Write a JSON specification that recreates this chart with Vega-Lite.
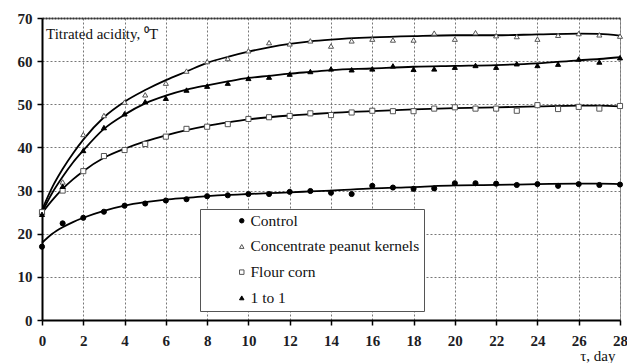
{
  "$schema": "https://vega.github.io/schema/vega-lite/v6.json",
  "width": 578,
  "height": 302,
  "autosize": "none",
  "padding": {"left": 42, "top": 18, "right": 7, "bottom": 43},
  "background": "white",
  "config": {
    "view": {"stroke": "#999", "strokeWidth": 1},
    "font": "Liberation Serif",
    "legend": {
      "strokeColor": "#555", "fillColor": "white", "padding": 4,
      "labelFont": "Liberation Serif", "labelFontSize": 15.5, "labelColor": "#111", "labelLimit": 400,
      "symbolSize": 20, "symbolOffset": 30, "labelOffset": 1, "rowPadding": 8.7, "symbolStrokeWidth": 1
    }
  },
  "datasets": {
    "pts": [
      {"day": 0, "value": 17.0, "series": "Control"},
      {"day": 1, "value": 22.4, "series": "Control"},
      {"day": 2, "value": 23.7, "series": "Control"},
      {"day": 3, "value": 25.1, "series": "Control"},
      {"day": 4, "value": 26.5, "series": "Control"},
      {"day": 5, "value": 27.0, "series": "Control"},
      {"day": 6, "value": 27.7, "series": "Control"},
      {"day": 7, "value": 28.0, "series": "Control"},
      {"day": 8, "value": 28.7, "series": "Control"},
      {"day": 9, "value": 28.9, "series": "Control"},
      {"day": 10, "value": 29.2, "series": "Control"},
      {"day": 11, "value": 29.2, "series": "Control"},
      {"day": 12, "value": 29.7, "series": "Control"},
      {"day": 13, "value": 29.9, "series": "Control"},
      {"day": 14, "value": 29.5, "series": "Control"},
      {"day": 15, "value": 29.2, "series": "Control"},
      {"day": 16, "value": 31.1, "series": "Control"},
      {"day": 17, "value": 30.7, "series": "Control"},
      {"day": 18, "value": 30.4, "series": "Control"},
      {"day": 19, "value": 30.5, "series": "Control"},
      {"day": 20, "value": 31.7, "series": "Control"},
      {"day": 21, "value": 31.7, "series": "Control"},
      {"day": 22, "value": 31.6, "series": "Control"},
      {"day": 23, "value": 31.3, "series": "Control"},
      {"day": 24, "value": 31.5, "series": "Control"},
      {"day": 25, "value": 31.1, "series": "Control"},
      {"day": 26, "value": 31.5, "series": "Control"},
      {"day": 27, "value": 31.3, "series": "Control"},
      {"day": 28, "value": 31.4, "series": "Control"},
      {"day": 0, "value": 25.0, "series": "Concentrate peanut kernels"},
      {"day": 1, "value": 32.0, "series": "Concentrate peanut kernels"},
      {"day": 2, "value": 43.0, "series": "Concentrate peanut kernels"},
      {"day": 3, "value": 47.4, "series": "Concentrate peanut kernels"},
      {"day": 4, "value": 50.5, "series": "Concentrate peanut kernels"},
      {"day": 5, "value": 52.2, "series": "Concentrate peanut kernels"},
      {"day": 6, "value": 54.9, "series": "Concentrate peanut kernels"},
      {"day": 7, "value": 57.7, "series": "Concentrate peanut kernels"},
      {"day": 8, "value": 59.9, "series": "Concentrate peanut kernels"},
      {"day": 9, "value": 60.6, "series": "Concentrate peanut kernels"},
      {"day": 10, "value": 62.4, "series": "Concentrate peanut kernels"},
      {"day": 11, "value": 64.3, "series": "Concentrate peanut kernels"},
      {"day": 12, "value": 64.0, "series": "Concentrate peanut kernels"},
      {"day": 13, "value": 64.7, "series": "Concentrate peanut kernels"},
      {"day": 14, "value": 63.5, "series": "Concentrate peanut kernels"},
      {"day": 15, "value": 64.7, "series": "Concentrate peanut kernels"},
      {"day": 16, "value": 65.1, "series": "Concentrate peanut kernels"},
      {"day": 17, "value": 64.9, "series": "Concentrate peanut kernels"},
      {"day": 18, "value": 64.9, "series": "Concentrate peanut kernels"},
      {"day": 19, "value": 66.5, "series": "Concentrate peanut kernels"},
      {"day": 20, "value": 65.1, "series": "Concentrate peanut kernels"},
      {"day": 21, "value": 66.6, "series": "Concentrate peanut kernels"},
      {"day": 22, "value": 65.9, "series": "Concentrate peanut kernels"},
      {"day": 23, "value": 65.7, "series": "Concentrate peanut kernels"},
      {"day": 24, "value": 65.1, "series": "Concentrate peanut kernels"},
      {"day": 25, "value": 66.0, "series": "Concentrate peanut kernels"},
      {"day": 26, "value": 66.4, "series": "Concentrate peanut kernels"},
      {"day": 27, "value": 66.1, "series": "Concentrate peanut kernels"},
      {"day": 28, "value": 65.8, "series": "Concentrate peanut kernels"},
      {"day": 0, "value": 25.0, "series": "Flour corn"},
      {"day": 1, "value": 30.0, "series": "Flour corn"},
      {"day": 2, "value": 34.5, "series": "Flour corn"},
      {"day": 3, "value": 38.0, "series": "Flour corn"},
      {"day": 4, "value": 39.4, "series": "Flour corn"},
      {"day": 5, "value": 40.8, "series": "Flour corn"},
      {"day": 6, "value": 42.5, "series": "Flour corn"},
      {"day": 7, "value": 44.3, "series": "Flour corn"},
      {"day": 8, "value": 44.8, "series": "Flour corn"},
      {"day": 9, "value": 45.4, "series": "Flour corn"},
      {"day": 10, "value": 46.6, "series": "Flour corn"},
      {"day": 11, "value": 47.0, "series": "Flour corn"},
      {"day": 12, "value": 47.3, "series": "Flour corn"},
      {"day": 13, "value": 47.9, "series": "Flour corn"},
      {"day": 14, "value": 47.5, "series": "Flour corn"},
      {"day": 15, "value": 48.1, "series": "Flour corn"},
      {"day": 16, "value": 48.5, "series": "Flour corn"},
      {"day": 17, "value": 48.4, "series": "Flour corn"},
      {"day": 18, "value": 48.4, "series": "Flour corn"},
      {"day": 19, "value": 49.0, "series": "Flour corn"},
      {"day": 20, "value": 49.3, "series": "Flour corn"},
      {"day": 21, "value": 49.0, "series": "Flour corn"},
      {"day": 22, "value": 49.0, "series": "Flour corn"},
      {"day": 23, "value": 48.5, "series": "Flour corn"},
      {"day": 24, "value": 49.8, "series": "Flour corn"},
      {"day": 25, "value": 48.9, "series": "Flour corn"},
      {"day": 26, "value": 49.4, "series": "Flour corn"},
      {"day": 27, "value": 49.0, "series": "Flour corn"},
      {"day": 28, "value": 49.6, "series": "Flour corn"},
      {"day": 0, "value": 24.5, "series": "1 to 1"},
      {"day": 1, "value": 31.0, "series": "1 to 1"},
      {"day": 2, "value": 39.3, "series": "1 to 1"},
      {"day": 3, "value": 44.6, "series": "1 to 1"},
      {"day": 4, "value": 47.8, "series": "1 to 1"},
      {"day": 5, "value": 50.6, "series": "1 to 1"},
      {"day": 6, "value": 51.4, "series": "1 to 1"},
      {"day": 7, "value": 53.3, "series": "1 to 1"},
      {"day": 8, "value": 54.2, "series": "1 to 1"},
      {"day": 9, "value": 54.9, "series": "1 to 1"},
      {"day": 10, "value": 56.0, "series": "1 to 1"},
      {"day": 11, "value": 56.3, "series": "1 to 1"},
      {"day": 12, "value": 57.0, "series": "1 to 1"},
      {"day": 13, "value": 57.6, "series": "1 to 1"},
      {"day": 14, "value": 58.2, "series": "1 to 1"},
      {"day": 15, "value": 58.0, "series": "1 to 1"},
      {"day": 16, "value": 58.2, "series": "1 to 1"},
      {"day": 17, "value": 58.9, "series": "1 to 1"},
      {"day": 18, "value": 58.1, "series": "1 to 1"},
      {"day": 19, "value": 58.2, "series": "1 to 1"},
      {"day": 20, "value": 58.6, "series": "1 to 1"},
      {"day": 21, "value": 59.0, "series": "1 to 1"},
      {"day": 22, "value": 58.6, "series": "1 to 1"},
      {"day": 23, "value": 59.4, "series": "1 to 1"},
      {"day": 24, "value": 59.0, "series": "1 to 1"},
      {"day": 25, "value": 59.3, "series": "1 to 1"},
      {"day": 26, "value": 60.5, "series": "1 to 1"},
      {"day": 27, "value": 59.8, "series": "1 to 1"},
      {"day": 28, "value": 60.8, "series": "1 to 1"}
    ],
    "fit": [
      {"day": 0, "value": 17.9, "series": "Control"},
      {"day": 0.5, "value": 20.0, "series": "Control"},
      {"day": 1, "value": 21.5, "series": "Control"},
      {"day": 1.5, "value": 22.7, "series": "Control"},
      {"day": 2, "value": 23.7, "series": "Control"},
      {"day": 3, "value": 25.3, "series": "Control"},
      {"day": 4, "value": 26.5, "series": "Control"},
      {"day": 5, "value": 27.3, "series": "Control"},
      {"day": 6, "value": 27.9, "series": "Control"},
      {"day": 7, "value": 28.3, "series": "Control"},
      {"day": 8, "value": 28.7, "series": "Control"},
      {"day": 9, "value": 29.0, "series": "Control"},
      {"day": 10, "value": 29.2, "series": "Control"},
      {"day": 11, "value": 29.4, "series": "Control"},
      {"day": 12, "value": 29.6, "series": "Control"},
      {"day": 13, "value": 29.8, "series": "Control"},
      {"day": 14, "value": 30.0, "series": "Control"},
      {"day": 16, "value": 30.5, "series": "Control"},
      {"day": 18, "value": 30.8, "series": "Control"},
      {"day": 20, "value": 31.2, "series": "Control"},
      {"day": 22, "value": 31.3, "series": "Control"},
      {"day": 24, "value": 31.5, "series": "Control"},
      {"day": 26, "value": 31.6, "series": "Control"},
      {"day": 27, "value": 31.6, "series": "Control"},
      {"day": 28, "value": 31.5, "series": "Control"},
      {"day": 0, "value": 25.5, "series": "Concentrate peanut kernels"},
      {"day": 0.5, "value": 30.8, "series": "Concentrate peanut kernels"},
      {"day": 1, "value": 35.0, "series": "Concentrate peanut kernels"},
      {"day": 1.5, "value": 38.6, "series": "Concentrate peanut kernels"},
      {"day": 2, "value": 41.8, "series": "Concentrate peanut kernels"},
      {"day": 3, "value": 47.0, "series": "Concentrate peanut kernels"},
      {"day": 4, "value": 50.6, "series": "Concentrate peanut kernels"},
      {"day": 5, "value": 53.3, "series": "Concentrate peanut kernels"},
      {"day": 6, "value": 55.6, "series": "Concentrate peanut kernels"},
      {"day": 7, "value": 57.6, "series": "Concentrate peanut kernels"},
      {"day": 8, "value": 59.6, "series": "Concentrate peanut kernels"},
      {"day": 9, "value": 61.0, "series": "Concentrate peanut kernels"},
      {"day": 10, "value": 62.2, "series": "Concentrate peanut kernels"},
      {"day": 11, "value": 63.2, "series": "Concentrate peanut kernels"},
      {"day": 12, "value": 64.0, "series": "Concentrate peanut kernels"},
      {"day": 13, "value": 64.6, "series": "Concentrate peanut kernels"},
      {"day": 14, "value": 65.0, "series": "Concentrate peanut kernels"},
      {"day": 16, "value": 65.5, "series": "Concentrate peanut kernels"},
      {"day": 18, "value": 65.8, "series": "Concentrate peanut kernels"},
      {"day": 20, "value": 66.0, "series": "Concentrate peanut kernels"},
      {"day": 22, "value": 66.0, "series": "Concentrate peanut kernels"},
      {"day": 24, "value": 66.2, "series": "Concentrate peanut kernels"},
      {"day": 26, "value": 66.4, "series": "Concentrate peanut kernels"},
      {"day": 27, "value": 66.3, "series": "Concentrate peanut kernels"},
      {"day": 28, "value": 65.9, "series": "Concentrate peanut kernels"},
      {"day": 0, "value": 24.8, "series": "Flour corn"},
      {"day": 0.5, "value": 27.8, "series": "Flour corn"},
      {"day": 1, "value": 30.4, "series": "Flour corn"},
      {"day": 1.5, "value": 32.6, "series": "Flour corn"},
      {"day": 2, "value": 34.5, "series": "Flour corn"},
      {"day": 3, "value": 37.6, "series": "Flour corn"},
      {"day": 4, "value": 39.7, "series": "Flour corn"},
      {"day": 5, "value": 41.4, "series": "Flour corn"},
      {"day": 6, "value": 42.8, "series": "Flour corn"},
      {"day": 7, "value": 44.0, "series": "Flour corn"},
      {"day": 8, "value": 45.0, "series": "Flour corn"},
      {"day": 9, "value": 45.8, "series": "Flour corn"},
      {"day": 10, "value": 46.5, "series": "Flour corn"},
      {"day": 11, "value": 47.0, "series": "Flour corn"},
      {"day": 12, "value": 47.4, "series": "Flour corn"},
      {"day": 13, "value": 47.7, "series": "Flour corn"},
      {"day": 14, "value": 48.0, "series": "Flour corn"},
      {"day": 16, "value": 48.4, "series": "Flour corn"},
      {"day": 18, "value": 48.8, "series": "Flour corn"},
      {"day": 20, "value": 49.1, "series": "Flour corn"},
      {"day": 22, "value": 49.3, "series": "Flour corn"},
      {"day": 24, "value": 49.5, "series": "Flour corn"},
      {"day": 26, "value": 49.7, "series": "Flour corn"},
      {"day": 27, "value": 49.7, "series": "Flour corn"},
      {"day": 28, "value": 49.5, "series": "Flour corn"},
      {"day": 0, "value": 25.0, "series": "1 to 1"},
      {"day": 0.5, "value": 29.5, "series": "1 to 1"},
      {"day": 1, "value": 33.2, "series": "1 to 1"},
      {"day": 1.5, "value": 36.5, "series": "1 to 1"},
      {"day": 2, "value": 39.3, "series": "1 to 1"},
      {"day": 3, "value": 44.3, "series": "1 to 1"},
      {"day": 4, "value": 47.6, "series": "1 to 1"},
      {"day": 5, "value": 50.2, "series": "1 to 1"},
      {"day": 6, "value": 52.0, "series": "1 to 1"},
      {"day": 7, "value": 53.4, "series": "1 to 1"},
      {"day": 8, "value": 54.4, "series": "1 to 1"},
      {"day": 9, "value": 55.3, "series": "1 to 1"},
      {"day": 10, "value": 56.1, "series": "1 to 1"},
      {"day": 11, "value": 56.6, "series": "1 to 1"},
      {"day": 12, "value": 57.1, "series": "1 to 1"},
      {"day": 13, "value": 57.5, "series": "1 to 1"},
      {"day": 14, "value": 57.9, "series": "1 to 1"},
      {"day": 16, "value": 58.3, "series": "1 to 1"},
      {"day": 18, "value": 58.7, "series": "1 to 1"},
      {"day": 20, "value": 58.9, "series": "1 to 1"},
      {"day": 22, "value": 59.1, "series": "1 to 1"},
      {"day": 24, "value": 59.5, "series": "1 to 1"},
      {"day": 26, "value": 60.2, "series": "1 to 1"},
      {"day": 27, "value": 60.5, "series": "1 to 1"},
      {"day": 28, "value": 60.9, "series": "1 to 1"}
    ]
  },
  "layer": [
    {
      "data": {"name": "fit"},
      "mark": {"type": "line", "color": "black", "strokeWidth": 1.8, "interpolate": "monotone"},
      "encoding": {
        "x": {
          "field": "day", "type": "quantitative",
          "scale": {"domain": [0, 28], "nice": false, "zero": false},
          "axis": {
            "orient": "bottom",
            "values": [0, 2, 4, 6, 8, 10, 12, 14, 16, 18, 20, 22, 24, 26, 28],
            "title": "τ, day",
            "titleFont": "Liberation Serif", "titleFontSize": 15, "titleFontWeight": "normal", "titleColor": "#111",
            "titleX": 573, "titleY": 40, "titleAlign": "right", "titleBaseline": "alphabetic",
            "labelFont": "Liberation Serif", "labelFontSize": 15, "labelFontWeight": "bold", "labelColor": "#1c1c24",
            "labelPadding": 8, "labelFlush": false, "labelOverlap": false,
            "tickSize": 5, "tickColor": "black", "tickWidth": 1.5,
            "domainColor": "black", "domainWidth": 2,
            "grid": true, "gridColor": "#777", "gridDash": [2, 2], "gridWidth": 1
          }
        },
        "y": {
          "field": "value", "type": "quantitative",
          "scale": {"domain": [0, 70], "nice": false},
          "axis": {
            "values": [0, 10, 20, 30, 40, 50, 60, 70],
            "title": "Titrated acidity, ⁰T",
            "titleFont": "Liberation Serif", "titleFontSize": 15, "titleFontWeight": "normal", "titleColor": "#111",
            "titleAngle": 0, "titleX": 3.5, "titleY": 20, "titleAlign": "left", "titleBaseline": "alphabetic",
            "labelFont": "Liberation Serif", "labelFontSize": 15, "labelFontWeight": "bold", "labelColor": "#1c1c24",
            "labelPadding": 5, "labelFlush": false,
            "tickSize": 5, "tickColor": "black", "tickWidth": 1.5,
            "domainColor": "black", "domainWidth": 2,
            "grid": true, "gridColor": "#777", "gridDash": [2, 2], "gridWidth": 1
          }
        },
        "detail": {"field": "series", "type": "nominal"}
      }
    },
    {
      "data": {"name": "pts"},
      "mark": {"type": "point", "size": 26, "strokeWidth": 1, "opacity": 1},
      "encoding": {
        "x": {
          "field": "day", "type": "quantitative",
          "scale": {"domain": [0, 28], "nice": false, "zero": false},
          "axis": {
            "orient": "top", "labels": false, "ticks": false, "grid": false, "title": null,
            "domainColor": "#333", "domainWidth": 2, "domainDash": [2, 1]
          }
        },
        "y": {"field": "value", "type": "quantitative"},
        "shape": {
          "field": "series", "type": "nominal",
          "scale": {"domain": ["Control", "Concentrate peanut kernels", "Flour corn", "1 to 1"], "range": ["circle", "triangle-up", "square", "triangle-up"]},
          "legend": {
            "title": null, "orient": "none", "legendX": 158, "legendY": 191,
            "labelExpr": "datum.label + '\u00a0\u00a0\u00a0\u00a0\u00a0'"
          }
        },
        "fill": {
          "field": "series", "type": "nominal",
          "scale": {"domain": ["Control", "Concentrate peanut kernels", "Flour corn", "1 to 1"], "range": ["black", "white", "white", "black"]},
          "legend": {
            "title": null, "orient": "none", "legendX": 158, "legendY": 191,
            "labelExpr": "datum.label + '\u00a0\u00a0\u00a0\u00a0\u00a0'"
          }
        },
        "stroke": {
          "field": "series", "type": "nominal",
          "scale": {"domain": ["Control", "Concentrate peanut kernels", "Flour corn", "1 to 1"], "range": ["black", "#555", "#555", "black"]},
          "legend": {
            "title": null, "orient": "none", "legendX": 158, "legendY": 191,
            "labelExpr": "datum.label + '\u00a0\u00a0\u00a0\u00a0\u00a0'"
          }
        }
      }
    }
  ],
  "resolve": {"axis": {"x": "independent"}}
}
